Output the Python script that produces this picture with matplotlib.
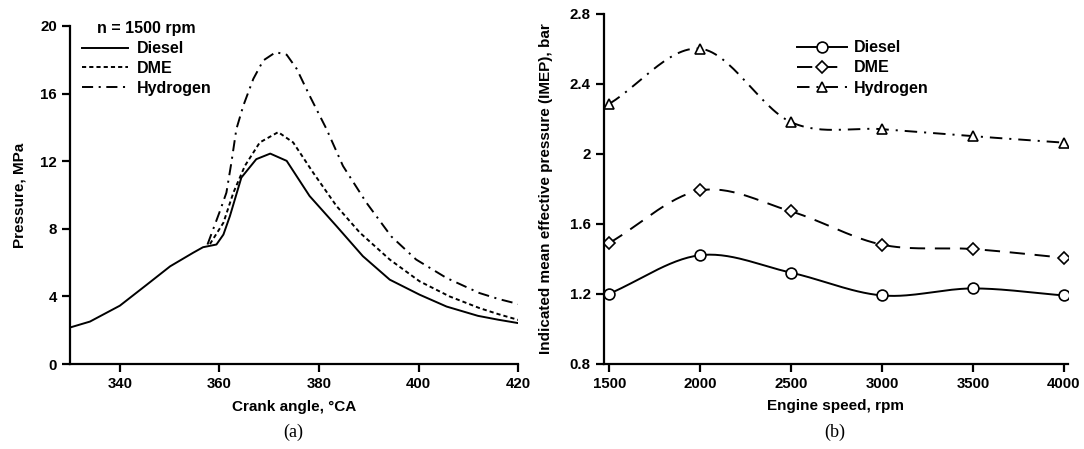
import numpy as np
import matplotlib
matplotlib.use('Agg')
import matplotlib.pyplot as plt

###############################################################################
# (a) in-cylinder pressure vs crank angle at n = 1500 rpm
diesel_ca = [330, 334, 340, 345.4, 350.1, 354.7, 356.7, 359.4, 360.8, 362.1, 363.1,
             364.4, 367.4, 370.2, 373.5, 378.1, 383.5, 388.8, 394.2, 400.2, 405.6,
             411.9, 416, 420]
diesel_p = [2.16, 2.51, 3.45, 4.69, 5.78, 6.58, 6.91, 7.07, 7.66, 8.75, 9.74,
            11.03, 12.12, 12.45, 12.02, 9.94, 8.16, 6.38, 4.99, 4.10, 3.40,
            2.85, 2.62, 2.42]

dme_ca = [358.1, 360.8, 362.8, 365.1, 368.1, 371.8, 374.8, 378.8, 383.5, 388.2,
          394.2, 400.2, 406.2, 412.2, 416, 420]
dme_p = [7.1, 8.36, 10.14, 11.72, 13.11, 13.72, 13.11, 11.33, 9.35, 7.77,
         6.18, 4.89, 4.00, 3.31, 2.95, 2.61]

h2_ca = [357.6, 360.1, 361.4, 362.4, 363.4, 364.8, 366.8, 368.8, 371.3, 373.5,
         375.5, 378.1, 381.5, 384.8, 389.5, 394.5, 399.5, 405.6, 412.2, 416, 420]
h2_p = [7.07, 9.05, 10.14, 11.92, 13.9, 15.29, 16.87, 17.96, 18.45, 18.30,
        17.47, 15.88, 13.9, 11.72, 9.55, 7.55, 6.18, 5.09, 4.20, 3.85, 3.55]

# (b) IMEP vs engine speed
speed = [1500, 2000, 2500, 3000, 3500, 4000]
imep_diesel = [1.20, 1.42, 1.32, 1.19, 1.23, 1.19]
imep_dme = [1.49, 1.79, 1.67, 1.48, 1.455, 1.405]
imep_h2 = [2.285, 2.60, 2.18, 2.14, 2.10, 2.063]

###############################################################################

plt.rcParams['font.family'] = ['Liberation Sans', 'DejaVu Sans']
plt.rcParams['font.weight'] = 'bold'
plt.rcParams['axes.labelweight'] = 'bold'
plt.rcParams['axes.labelsize'] = 11
plt.rcParams['lines.scale_dashes'] = False

tick_fs = 10.8
leg_fs = 11.5


def smooth(x, y, n=30):
    # catmull-rom style curve through the points, like a smoothed spreadsheet line
    x = np.asarray(x, float)
    y = np.asarray(y, float)
    px = np.concatenate([[2*x[0]-x[1]], x, [2*x[-1]-x[-2]]])
    py = np.concatenate([[2*y[0]-y[1]], y, [2*y[-1]-y[-2]]])
    xs, ys = [], []
    for i in range(1, len(px)-2):
        t = np.linspace(0, 1, n, endpoint=(i == len(px)-3))
        t2, t3 = t*t, t*t*t
        for src, dst in ((px, xs), (py, ys)):
            p0, p1, p2, p3 = src[i-1], src[i], src[i+1], src[i+2]
            dst.append(0.5*(2*p1 + (-p0+p2)*t + (2*p0-5*p1+4*p2-p3)*t2
                            + (-p0+3*p1-3*p2+p3)*t3))
    return np.concatenate(xs), np.concatenate(ys)


def style_axes(ax):
    for s in ['top', 'right']:
        ax.spines[s].set_visible(False)
    for s in ['left', 'bottom']:
        ax.spines[s].set_linewidth(1.6)
    ax.tick_params(direction='out', length=6, width=1.6, labelsize=tick_fs)


fig = plt.figure(figsize=(10.84, 4.49), dpi=100)
ax1 = fig.add_axes([0.0646, 0.1893, 0.4135, 0.7528])
ax2 = fig.add_axes([0.5572, 0.19, 0.428, 0.7795])

lw = 1.4
ax1.plot(diesel_ca, diesel_p, color='k', lw=lw, label='Diesel')
ax1.plot(dme_ca, dme_p, color='k', lw=lw, dashes=(3, 2.2), label='DME')
ax1.plot(h2_ca, h2_p, color='k', lw=lw, dashes=(8, 4, 1.5, 4), label='Hydrogen')
ax1.set_xlim(330, 420)
ax1.set_ylim(0, 20)
ax1.set_xticks([340, 360, 380, 400, 420])
ax1.set_yticks([0, 4, 8, 12, 16, 20])
ax1.set_xlabel('Crank angle, \u00b0CA', labelpad=6)
ax1.set_ylabel('Pressure, MPa', labelpad=10)
style_axes(ax1)
leg1 = ax1.legend(title='n = 1500 rpm', loc='upper left', frameon=False,
                  handlelength=2.9, handletextpad=0.5, labelspacing=0.3,
                  bbox_to_anchor=(-0.005, 1.056), fontsize=leg_fs)
leg1.get_title().set_fontweight('bold')
leg1.get_title().set_fontsize(leg_fs)

mk = dict(color='k', lw=lw, markerfacecolor='white', markeredgecolor='k',
          markeredgewidth=1.2)
sx, sy = smooth(speed, imep_diesel)
ax2.plot(sx, sy, color='k', lw=lw)
sx, sy = smooth(speed, imep_dme)
ax2.plot(sx, sy, color='k', lw=lw, dashes=(11, 7))
sx, sy = smooth(speed, imep_h2)
ax2.plot(sx, sy, color='k', lw=lw, dashes=(9, 5, 1.5, 5))
ax2.plot(speed, imep_diesel, 'o', ms=7.8, **mk)
ax2.plot(speed, imep_dme, 'D', ms=6.2, **mk)
ax2.plot(speed, imep_h2, '^', ms=7.8, **mk)

# legend entries with line + marker
h_d, = ax2.plot([], [], '-o', ms=7.8, **mk)
h_m, = ax2.plot([], [], '-D', ms=6.2, dashes=(11, 7), **mk)
h_h, = ax2.plot([], [], '-^', ms=7.8, dashes=(9, 5, 1.5, 5), **mk)
ax2.legend([h_d, h_m, h_h], ['Diesel', 'DME', 'Hydrogen'], loc='upper left',
           frameon=False, handlelength=3.1, handletextpad=0.45, labelspacing=0.32,
           numpoints=1, bbox_to_anchor=(0.385, 0.965), fontsize=leg_fs)

ax2.set_xlim(1471, 4022)
ax2.set_ylim(0.8, 2.8)
ax2.set_xticks(speed)
ax2.set_yticks([0.8, 1.2, 1.6, 2.0, 2.4, 2.8])
ax2.set_yticklabels(['0.8', '1.2', '1.6', '2', '2.4', '2.8'])
ax2.set_xlabel('Engine speed, rpm', labelpad=6)
ax2.set_ylabel('Indicated mean effective pressure (IMEP), bar', labelpad=12)
style_axes(ax2)

fig.text(293/1084, 1 - 432/449, '(a)', ha='center', va='center',
         family='Liberation Serif', weight='normal', fontsize=13)
fig.text(835/1084, 1 - 432/449, '(b)', ha='center', va='center',
         family='Liberation Serif', weight='normal', fontsize=13)

plt.savefig('out.png', dpi=100)
